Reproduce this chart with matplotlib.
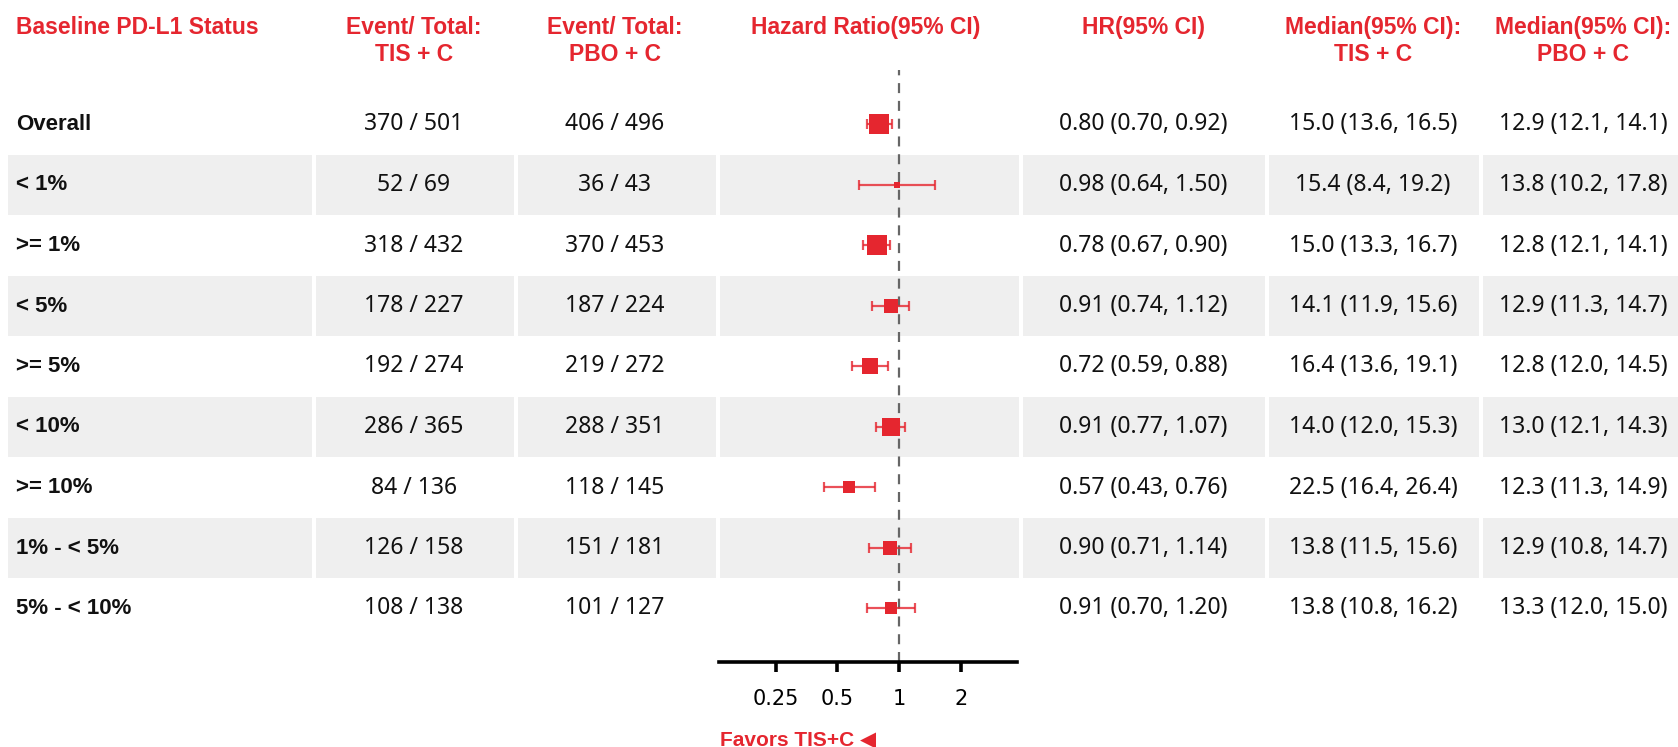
import matplotlib
matplotlib.use("Agg")
import matplotlib.pyplot as plt
import numpy as np
from matplotlib.patches import Rectangle
from matplotlib.ticker import FixedLocator, FixedFormatter, NullLocator

# ── Subgroup data ──
labels = ["Overall", "< 1%", ">= 1%", "< 5%", ">= 5%", "< 10%", ">= 10%",
          "1% - < 5%", "5% - < 10%"]
tis_events = [370, 52, 318, 178, 192, 286, 84, 126, 108]
tis_total = [501, 69, 432, 227, 274, 365, 136, 158, 138]
pbo_events = [406, 36, 370, 187, 219, 288, 118, 151, 101]
pbo_total = [496, 43, 453, 224, 272, 351, 145, 181, 127]
hr = [0.80, 0.98, 0.78, 0.91, 0.72, 0.91, 0.57, 0.90, 0.91]
hr_lo = [0.70, 0.64, 0.67, 0.74, 0.59, 0.77, 0.43, 0.71, 0.70]
hr_hi = [0.92, 1.50, 0.90, 1.12, 0.88, 1.07, 0.76, 1.14, 1.20]
med_tis = [15.0, 15.4, 15.0, 14.1, 16.4, 14.0, 22.5, 13.8, 13.8]
med_tis_lo = [13.6, 8.4, 13.3, 11.9, 13.6, 12.0, 16.4, 11.5, 10.8]
med_tis_hi = [16.5, 19.2, 16.7, 15.6, 19.1, 15.3, 26.4, 15.6, 16.2]
med_pbo = [12.9, 13.8, 12.8, 12.9, 12.8, 13.0, 12.3, 12.9, 13.3]
med_pbo_lo = [12.1, 10.2, 12.1, 11.3, 12.0, 12.1, 11.3, 10.8, 12.0]
med_pbo_hi = [14.1, 17.8, 14.1, 14.7, 14.5, 14.3, 14.9, 14.7, 15.0]

headers = ["Baseline PD-L1 Status", "Event/ Total:\nTIS + C", "Event/ Total:\nPBO + C",
           "Hazard Ratio(95% CI)", "HR(95% CI)", "Median(95% CI):\nTIS + C",
           "Median(95% CI):\nPBO + C"]
hr_ticks = [0.25, 0.5, 1, 2]
hr_tick_labels = ["0.25", "0.5", "1", "2"]

RED = "#e5262f"
SHADE = "#efefef"
HEAD_FONT = ["Liberation Sans", "DejaVu Sans"]
BODY_FONT = ["Noto Sans", "DejaVu Sans"]

W, H = 1678, 747
ROW0, ROW_H = 124.5, 60.5
col_edges = [(8, 312), (316, 514), (518, 716), (720, 1019), (1023, 1265),
             (1269, 1479), (1483, 1678)]
col_centers = [16, 414, 615, 866, 1143, 1373, 1583]
AX_LEFT, AX_RIGHT, AX_TOP, AX_BOTTOM = 719, 1016.7, 70, 661.7

n = len(labels)
row_y = ROW0 + ROW_H * np.arange(n)

fig = plt.figure(figsize=(W / 100, H / 100), dpi=100)
bg = fig.add_axes([0, 0, 1, 1])
bg.set_xlim(0, W)
bg.set_ylim(H, 0)
bg.axis("off")

# alternating row shading, split per column
for i, y in enumerate(row_y):
    if i % 2 == 1:
        for x0, x1 in col_edges:
            bg.add_patch(Rectangle((x0, y - 30), x1 - x0, 60, color=SHADE, lw=0))

# headers
for j, h in enumerate(headers):
    ha = "left" if j == 0 else "center"
    bg.text(col_centers[j], 16, h, ha=ha, va="top", color=RED, fontsize=16.5,
            fontweight="bold", family=HEAD_FONT, linespacing=1.2)

# table body
for i, y in enumerate(row_y):
    cells = [
        f"{tis_events[i]} / {tis_total[i]}",
        f"{pbo_events[i]} / {pbo_total[i]}",
        None,
        f"{hr[i]:.2f} ({hr_lo[i]:.2f}, {hr_hi[i]:.2f})",
        f"{med_tis[i]:.1f} ({med_tis_lo[i]:.1f}, {med_tis_hi[i]:.1f})",
        f"{med_pbo[i]:.1f} ({med_pbo_lo[i]:.1f}, {med_pbo_hi[i]:.1f})",
    ]
    bg.text(col_centers[0], y, labels[i], ha="left", va="center", fontsize=16,
            fontweight="bold", family=HEAD_FONT, color="#111111")
    for j, c in enumerate(cells, start=1):
        if c is None:
            continue
        bg.text(col_centers[j], y, c, ha="center", va="center", fontsize=16.5,
                family=BODY_FONT, color="#111111")

# ── forest panel on a log2 hazard-ratio scale ──
ax = fig.add_axes([AX_LEFT / W, (H - AX_BOTTOM) / H,
                   (AX_RIGHT - AX_LEFT) / W, (AX_BOTTOM - AX_TOP) / H])
ax.patch.set_alpha(0)
ax.set_xscale("log", base=2)
ax.set_xlim(0.132, 3.755)
ax.set_ylim(AX_BOTTOM, AX_TOP)
for side in ["top", "left", "right"]:
    ax.spines[side].set_visible(False)
ax.spines["bottom"].set_linewidth(2.6)
ax.spines["bottom"].set_color("black")
ax.xaxis.set_major_locator(FixedLocator(hr_ticks))
ax.xaxis.set_major_formatter(FixedFormatter(hr_tick_labels))
ax.xaxis.set_minor_locator(NullLocator())
ax.tick_params(axis="x", length=7.5, width=2.6, labelsize=15, pad=12,
               colors="black")
ax.set_yticks([])

ax.axvline(1, color="#666666", ls=(0, (4.5, 3.5)), lw=1.6, zorder=1)

# box side grows with log of subgroup size (pixels -> points)
n_pat = np.array(tis_total) + np.array(pbo_total)
sizes = (6.42 * np.log(n_pat) - 24.3) * 0.72
hr_arr = np.array(hr)
for i, y in enumerate(row_y):
    ax.errorbar(hr_arr[i], y,
                xerr=[[hr_arr[i] - hr_lo[i]], [hr_hi[i] - hr_arr[i]]],
                fmt="none", ecolor=RED, alpha=0.8, elinewidth=1.6, capsize=3.8,
                capthick=1.6, zorder=2)
    ax.plot(hr_arr[i], y, marker="s", ms=sizes[i], color=RED, mec=RED, mew=0,
            zorder=3)

bg.text(720, 740, "Favors TIS+C \u25c0", ha="left", va="center", color=RED,
        fontsize=15, fontweight="bold", family=HEAD_FONT)

fig.savefig("out.png", dpi=100)
